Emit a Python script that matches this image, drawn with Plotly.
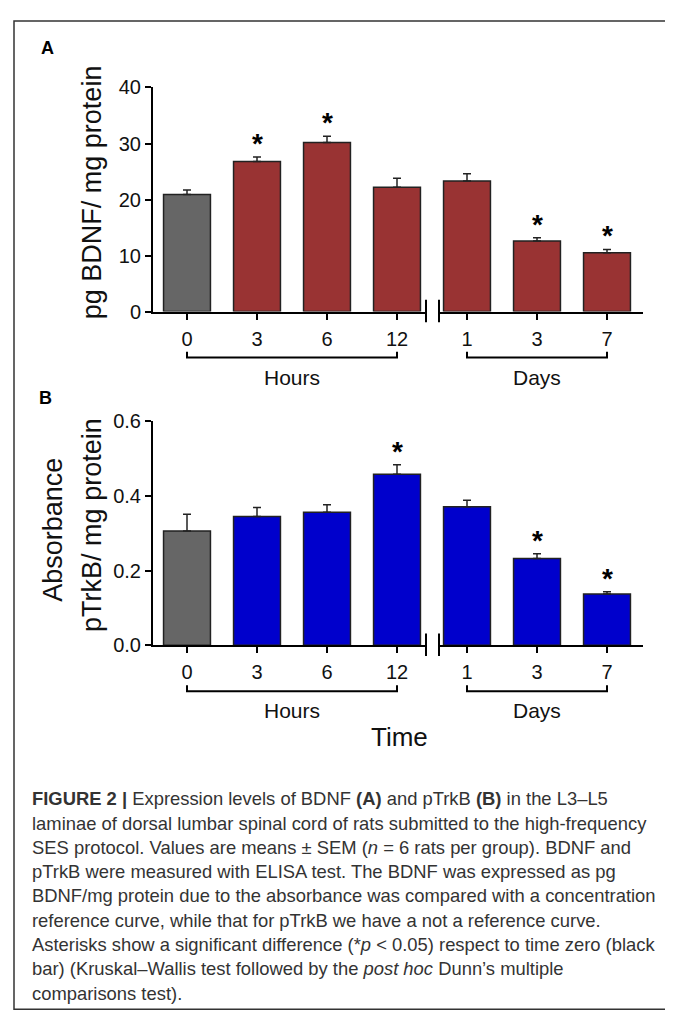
import plotly.graph_objects as go

# ---------------- data ----------------
hour_labels = ["0", "3", "6", "12"]
day_labels = ["1", "3", "7"]

bdnf_hours = [20.9, 26.8, 30.2, 22.2]
bdnf_hours_sem = [0.8, 0.8, 1.1, 1.6]
bdnf_days = [23.3, 12.6, 10.5]
bdnf_days_sem = [1.3, 0.6, 0.6]
bdnf_hours_sig = [False, True, True, False]
bdnf_days_sig = [False, True, True]

trkb_hours = [0.306, 0.345, 0.356, 0.458]
trkb_hours_sem = [0.045, 0.024, 0.020, 0.025]
trkb_days = [0.371, 0.232, 0.137]
trkb_days_sem = [0.017, 0.013, 0.006]
trkb_hours_sig = [False, False, False, True]
trkb_days_sig = [False, True, True]

# ---------------- style ----------------
W, H = 673, 1024
OFF = 8  # page body margin offset
FONT = "Liberation Sans, Arial, Helvetica, sans-serif"
GRAY = "#666666"
RED = "#993333"
BLUE = "#0000CC"
EDGE = "#222222"


def px(x):
    return (x - OFF) / W


def py(y):
    return 1 - (y - OFF) / H


fig = go.Figure()

hx = list(range(len(hour_labels)))
dx = list(range(len(day_labels)))


def add_panel(xa, xa2, ya, hv, hs, dv, ds, color):
    hcol = [GRAY] + [color] * (len(hv) - 1)
    common = dict(
        width=0.67,
        marker_line_color=EDGE,
        marker_line_width=1.5,
        showlegend=False,
        hoverinfo="skip",
    )
    fig.add_trace(go.Bar(
        x=hx, y=hv, xaxis=xa, yaxis=ya, marker_color=hcol,
        error_y=dict(type="data", array=hs, arrayminus=[0] * len(hs),
                     symmetric=False, color=EDGE, thickness=1.5, width=4),
        **common))
    fig.add_trace(go.Bar(
        x=dx, y=dv, xaxis=xa2, yaxis=ya, marker_color=[color] * len(dv),
        error_y=dict(type="data", array=ds, arrayminus=[0] * len(ds),
                     symmetric=False, color=EDGE, thickness=1.5, width=4),
        **common))


add_panel("x", "x2", "y", bdnf_hours, bdnf_hours_sem, bdnf_days, bdnf_days_sem, RED)
add_panel("x3", "x4", "y2", trkb_hours, trkb_hours_sem, trkb_days, trkb_days_sem, BLUE)

xcommon = dict(
    showline=True, linecolor="black", linewidth=2,
    ticks="outside", ticklen=6, tickwidth=1.5, tickcolor="black",
    showgrid=False, zeroline=False, fixedrange=True, ticklabelstandoff=2,
    tickfont=dict(family=FONT, size=20, color="#111"),
)
ycommon = dict(
    showline=True, linecolor="black", linewidth=2,
    ticks="outside", ticklen=6, tickwidth=1.5, tickcolor="black",
    showgrid=False, zeroline=False, fixedrange=True,
    tickfont=dict(family=FONT, size=20, color="#111"),
)

# axis geometry (pixels in the reference image)
Y_LEFT, BREAK_L, BREAK_R, X_RIGHT = 153, 426, 439, 643
TICK0, STEP = 187, 70
DAY0 = 467
A_TOP, A_BOT = 78, 307
B_TOP, B_BOT = 419, 648

hrange = [(Y_LEFT - TICK0) / STEP, (BREAK_L - TICK0) / STEP]
drange = [(BREAK_R - DAY0) / STEP, (X_RIGHT - DAY0) / STEP]

fig.update_layout(
    xaxis=dict(domain=[px(Y_LEFT), px(BREAK_L)], range=hrange, anchor="y",
               tickvals=hx, ticktext=hour_labels, **xcommon),
    xaxis2=dict(domain=[px(BREAK_R), px(X_RIGHT)], range=drange, anchor="y",
                tickvals=dx, ticktext=day_labels, **xcommon),
    yaxis=dict(domain=[py(A_BOT), py(A_TOP)], range=[0, 40], anchor="x",
               tickvals=[0, 10, 20, 30, 40], **ycommon),
    xaxis3=dict(domain=[px(Y_LEFT), px(BREAK_L)], range=hrange, anchor="y2",
                tickvals=hx, ticktext=hour_labels, **xcommon),
    xaxis4=dict(domain=[px(BREAK_R), px(X_RIGHT)], range=drange, anchor="y2",
                tickvals=dx, ticktext=day_labels, **xcommon),
    yaxis2=dict(domain=[py(B_BOT), py(B_TOP)], range=[0, 0.6], anchor="x3",
                tickvals=[0, 0.2, 0.4, 0.6], tickformat=".1f", **ycommon),
)

shapes = []
annotations = []

# frame
shapes.append(dict(type="rect", xref="paper", yref="paper",
                   x0=px(14), x1=px(670), y0=py(1020), y1=py(10),
                   line=dict(color="#333", width=1.5)))

for (xa, xa2, ybot) in [("x", "x2", A_BOT), ("x3", "x4", B_BOT)]:
    # axis break marks
    for bx in (BREAK_L, BREAK_R):
        shapes.append(dict(type="line", xref="paper", yref="paper",
                           x0=px(bx), x1=px(bx), y0=py(ybot + 11), y1=py(ybot - 12),
                           line=dict(color="black", width=2)))
    # brackets
    yb = ybot + 47
    for axr, n, label in [(xa, len(hour_labels), "Hours"), (xa2, len(day_labels), "Days")]:
        shapes.append(dict(type="path", xref=axr, yref="paper",
                           path=f"M 0,{py(yb - 6)} L 0,{py(yb)} L {n - 1},{py(yb)} L {n - 1},{py(yb - 6)}",
                           line=dict(color="black", width=2)))
        annotations.append(dict(xref=axr, yref="paper", x=(n - 1) / 2, y=py(yb + 20),
                                text=label, showarrow=False, xanchor="center", yanchor="middle",
                                font=dict(family=FONT, size=21, color="#111")))


def add_stars(xa, ya, vals, sems, sigs):
    for i, (v, s, g) in enumerate(zip(vals, sems, sigs)):
        if g:
            annotations.append(dict(xref=xa, yref=ya, x=i, y=v + s, text="<b>*</b>",
                                    showarrow=False, xanchor="center", yanchor="bottom",
                                    yshift=-4,
                                    font=dict(family=FONT, size=28, color="black")))


add_stars("x", "y", bdnf_hours, bdnf_hours_sem, bdnf_hours_sig)
add_stars("x2", "y", bdnf_days, bdnf_days_sem, bdnf_days_sig)
add_stars("x3", "y2", trkb_hours, trkb_hours_sem, trkb_hours_sig)
add_stars("x4", "y2", trkb_days, trkb_days_sem, trkb_days_sig)

# panel letters
for letter, (lx, ly) in [("A", (47, 38)), ("B", (45, 395))]:
    annotations.append(dict(xref="paper", yref="paper", x=px(lx), y=py(ly),
                            text=f"<b>{letter}</b>", showarrow=False,
                            xanchor="center", yanchor="middle",
                            font=dict(family=FONT, size=18, color="black")))

# y axis titles
annotations.append(dict(xref="paper", yref="paper", x=px(92), y=py(185),
                        text="pg BDNF/ mg protein", textangle=-90, showarrow=False,
                        xanchor="center", yanchor="middle",
                        font=dict(family=FONT, size=27, color="#111")))
annotations.append(dict(xref="paper", yref="paper", x=px(53), y=py(530),
                        text="Absorbance", textangle=-90, showarrow=False,
                        xanchor="center", yanchor="middle",
                        font=dict(family=FONT, size=27, color="#111")))
annotations.append(dict(xref="paper", yref="paper", x=px(92), y=py(525),
                        text="pTrkB/ mg protein", textangle=-90, showarrow=False,
                        xanchor="center", yanchor="middle",
                        font=dict(family=FONT, size=27, color="#111")))

# x title
annotations.append(dict(xref="paper", yref="paper", x=px(399), y=py(742),
                        text="Time", showarrow=False, xanchor="center", yanchor="middle",
                        font=dict(family=FONT, size=26, color="#111")))

# caption
caption_lines = [
    "<b>FIGURE 2 |</b> Expression levels of BDNF <b>(A)</b> and pTrkB <b>(B)</b> in the L3–L5",
    "laminae of dorsal lumbar spinal cord of rats submitted to the high-frequency",
    "SES protocol. Values are means ± SEM (<i>n</i> = 6 rats per group). BDNF and",
    "pTrkB were measured with ELISA test. The BDNF was expressed as pg",
    "BDNF/mg protein due to the absorbance was compared with a concentration",
    "reference curve, while that for pTrkB we have a not a reference curve.",
    "Asterisks show a significant difference (*<i>p</i> &lt; 0.05) respect to time zero (black",
    "bar) (Kruskal–Wallis test followed by the <i>post hoc</i> Dunn’s multiple",
    "comparisons test).",
]
for i, line in enumerate(caption_lines):
    annotations.append(dict(xref="paper", yref="paper", x=px(30), y=py(805 + i * 24.8),
                            text=line, showarrow=False, xanchor="left", yanchor="middle",
                            font=dict(family=FONT, size=18.4, color="#333")))

fig.update_layout(
    width=W, height=H,
    margin=dict(l=0, r=0, t=0, b=0),
    paper_bgcolor="white", plot_bgcolor="white",
    bargap=0.3,
    shapes=shapes, annotations=annotations,
    font=dict(family=FONT),
)

fig.write_html("out.html")
